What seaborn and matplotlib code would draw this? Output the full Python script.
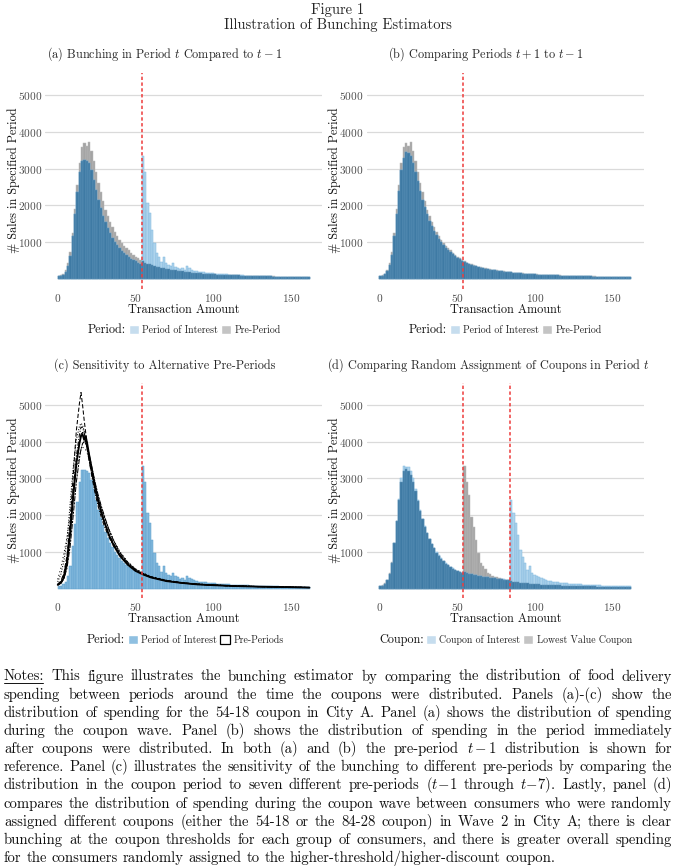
import numpy as np
import pandas as pd
import matplotlib
matplotlib.use("Agg")
import matplotlib.pyplot as plt
from matplotlib.patches import Patch
from matplotlib.lines import Line2D
import seaborn as sns

# ------------------------------------------------------------------
# Data (counts per 1.5-unit bin, 0 .. 162)
# ------------------------------------------------------------------
BIN_WIDTH = 1.5
bin_edges = np.arange(0, 162 + BIN_WIDTH / 2, BIN_WIDTH)
bin_centers = bin_edges[:-1] + BIN_WIDTH / 2

# coupon wave, 54-18 coupon (panels a and c)
wave_interest = [
    60, 70, 110, 190, 340, 620, 1150, 1750, 2350, 2900,
    3220, 3230, 3200, 3150, 2950, 2700, 2420, 2150, 1920, 1720,
    1540, 1380, 1240, 1120, 1000, 910, 830, 760, 700, 640,
    590, 545, 500, 470, 430, 400, 3350, 2900, 2050, 1780,
    1320, 960, 690, 600, 460, 600, 420, 380, 340, 420,
    330, 300, 270, 280, 240, 350, 290, 250, 220, 200,
    190, 180, 175, 165, 160, 150, 148, 140, 135, 130,
    125, 122, 115, 112, 108, 104, 100, 98, 92, 89,
    86, 84, 80, 77, 75, 72, 70, 69, 66, 64,
    62, 60, 58, 57, 55, 54, 53, 52, 50, 49,
    48, 47, 46, 45, 44, 43, 42, 40,
]
# pre-period t-1 (panels a and b)
pre_t1 = [
    70, 90, 140, 230, 420, 720, 1250, 1900, 2550, 3150,
    3600, 3700, 3620, 3720, 3480, 3200, 2900, 2620, 2350, 2120,
    1880, 1700, 1540, 1400, 1260, 1150, 1060, 980, 900, 830,
    770, 710, 650, 600, 560, 520, 470, 440, 410, 390,
    370, 350, 330, 315, 300, 285, 270, 258, 246, 235,
    225, 215, 205, 198, 190, 182, 175, 168, 162, 156,
    150, 145, 140, 135, 130, 126, 122, 118, 114, 110,
    107, 104, 101, 98, 95, 92, 90, 88, 86, 84,
    82, 80, 78, 76, 74, 72, 70, 68, 66, 64,
    62, 61, 60, 58, 57, 56, 55, 54, 53, 52,
    51, 50, 49, 48, 47, 46, 45, 44,
]
# period t+1 (panel b)
post_t1 = [
    60, 80, 120, 210, 380, 650, 1150, 1750, 2400, 2950,
    3300, 3450, 3420, 3350, 3150, 2900, 2650, 2400, 2150, 1950,
    1750, 1580, 1430, 1300, 1180, 1080, 990, 910, 840, 780,
    720, 660, 610, 565, 525, 490, 450, 420, 395, 375,
    355, 335, 318, 302, 288, 274, 260, 248, 237, 226,
    216, 207, 198, 190, 183, 176, 169, 162, 156, 150,
    145, 140, 135, 130, 126, 122, 118, 114, 110, 107,
    104, 101, 98, 95, 92, 90, 88, 86, 84, 82,
    80, 78, 76, 74, 72, 70, 68, 66, 64, 62,
    60, 59, 58, 57, 56, 55, 54, 53, 52, 51,
    50, 49, 48, 47, 46, 45, 44, 43,
]
# wave 2: 84-28 coupon (coupon of interest) and 54-18 coupon (lowest value)
coupon_interest = [
    70, 80, 130, 220, 400, 700, 1250, 1850, 2450, 3000,
    3350, 3300, 3320, 3200, 3000, 2700, 2400, 2150, 1900, 1700,
    1520, 1360, 1220, 1100, 990, 900, 820, 750, 690, 640,
    590, 550, 510, 480, 450, 430, 450, 420, 400, 390,
    370, 360, 345, 330, 320, 310, 300, 290, 285, 275,
    268, 262, 255, 250, 245, 240, 2400, 2050, 1780, 1450,
    1050, 870, 690, 500, 600, 420, 380, 330, 300, 280,
    250, 230, 215, 200, 190, 180, 170, 160, 150, 145,
    140, 135, 130, 125, 120, 115, 110, 106, 102, 98,
    95, 92, 89, 86, 83, 80, 78, 76, 74, 72,
    70, 68, 66, 64, 62, 60, 58, 56,
]
coupon_lowest = [
    70, 90, 140, 240, 420, 720, 1250, 1850, 2400, 2900,
    3200, 3250, 3200, 3100, 2900, 2650, 2380, 2120, 1880, 1680,
    1500, 1340, 1210, 1090, 980, 890, 810, 740, 680, 630,
    580, 540, 500, 470, 440, 420, 3350, 2900, 2550, 1960,
    1680, 1320, 960, 690, 600, 520, 420, 400, 330, 320,
    300, 280, 260, 240, 230, 220, 200, 190, 180, 170,
    160, 152, 145, 138, 132, 126, 120, 115, 110, 106,
    102, 98, 95, 92, 89, 86, 84, 82, 80, 78,
    76, 74, 72, 70, 68, 66, 64, 62, 60, 58,
    57, 56, 55, 54, 53, 52, 51, 50, 49, 48,
    47, 46, 45, 44, 43, 42, 41, 40,
]

# panel (c): seven alternative pre-periods (t-1 .. t-7)
pre_x = [0, 2, 4, 6, 8, 10, 12, 14, 15, 16, 17, 18, 19, 20, 22, 24, 26, 28,
         30, 33, 36, 40, 45, 50, 55, 60, 70, 80, 90, 100, 115, 130, 145, 162]
pre_periods = {
    "t-1": [100, 150, 300, 700, 1500, 2500, 3400, 3950, 4150, 4200, 4050, 4150, 3950, 3700, 3250, 2800, 2420,
            2100, 1820, 1450, 1180, 890, 650, 480, 380, 300, 200, 150, 110, 90, 65, 50, 40, 25],
    "t-2": [120, 200, 420, 900, 1800, 3100, 4300, 5050, 5340, 5000, 4600, 4250, 3950, 3650, 3150, 2700, 2350,
            2050, 1800, 1480, 1220, 930, 680, 500, 390, 310, 210, 150, 115, 90, 65, 50, 40, 25],
    "t-3": [180, 380, 750, 1300, 2300, 3300, 4050, 4420, 4500, 4450, 4300, 4100, 3850, 3650, 3250, 2850, 2500,
            2200, 1950, 1600, 1300, 980, 720, 530, 410, 320, 215, 155, 120, 95, 70, 52, 42, 28],
    "t-4": [110, 180, 380, 850, 1700, 2700, 3600, 4200, 4400, 4380, 4250, 4000, 3800, 3550, 3050, 2600, 2250,
            1950, 1700, 1400, 1150, 900, 660, 490, 385, 305, 205, 150, 115, 90, 65, 50, 40, 26],
    "t-5": [100, 160, 330, 750, 1550, 2550, 3450, 4000, 4200, 4250, 4150, 4000, 3800, 3550, 3100, 2700, 2350,
            2050, 1800, 1450, 1200, 920, 670, 500, 390, 310, 210, 150, 115, 92, 66, 51, 41, 26],
    "t-6": [90, 140, 260, 560, 1150, 2000, 2900, 3550, 3800, 3950, 4000, 3950, 3850, 3700, 3300, 2900, 2550,
            2250, 1980, 1600, 1300, 980, 710, 520, 405, 318, 215, 155, 118, 93, 68, 52, 42, 27],
    "t-7": [250, 550, 950, 1400, 2000, 2650, 3250, 3650, 3780, 3850, 3820, 3780, 3700, 3550, 3200, 2850, 2500,
            2200, 1950, 1600, 1320, 1000, 730, 540, 420, 330, 225, 160, 122, 96, 70, 53, 43, 28],
}
pre_styles = ["-", (0, (4, 2)), (0, (1, 1.5)), (0, (4, 1.5, 1, 1.5)),
              (0, (7, 2)), (0, (2, 1, 5, 1)), (0, (1, 2.5))]

thresholds_ab = [54]
thresholds_d = [54, 84]

# ------------------------------------------------------------------
# Style
# ------------------------------------------------------------------
sns.set_theme(style="white")
plt.rcParams["font.family"] = ["cmr10", "DejaVu Serif"]
plt.rcParams["mathtext.fontset"] = "cm"
plt.rcParams["axes.formatter.use_mathtext"] = True
plt.rcParams["axes.unicode_minus"] = False

W, H = 676, 868
LIGHT_BLUE = "#aed3ec"
LIGHT_BLUE_EDGE = "#7fb7de"
DARK_BLUE = "#3e7aa4"
DARK_BLUE_EDGE = "#6296bb"
GREY = "#a4a4a4"
GREY_EDGE = "#bcbcbc"
MID_BLUE = "#84b9dd"
MID_BLUE_EDGE = "#5a9dcc"
RED = "#ee3b3b"


def px(x, y):
    return x / W, 1 - y / H


def hist(ax, values, face, edge):
    df = pd.DataFrame({"amount": bin_centers, "count": np.asarray(values, dtype=float)})
    sns.histplot(data=df, x="amount", weights="count", bins=list(bin_edges), ax=ax,
                 color=face, edgecolor=edge, linewidth=0.35, alpha=1)


def overlay(ax, interest, other, blue=LIGHT_BLUE, blue_edge=LIGHT_BLUE_EDGE):
    hist(ax, other, GREY, GREY_EDGE)
    hist(ax, interest, blue, blue_edge)
    hist(ax, np.minimum(interest, other), DARK_BLUE, DARK_BLUE_EDGE)


def style_axis(ax, xlab_y, ylab_x, cuts):
    for c in cuts:
        ax.axvline(c, color=RED, lw=1.1, ls=(0, (2.2, 1.6)), zorder=5)
    ax.set_xlim(-8.1, 170.1)
    ax.set_ylim(-267, 5605)
    ax.set_xticks([0, 50, 100, 150])
    ax.set_yticks([1000, 2000, 3000, 4000, 5000])
    ax.yaxis.grid(True, color="#dadada", lw=0.9)
    ax.xaxis.grid(False)
    ax.set_axisbelow(True)
    for s in ax.spines.values():
        s.set_visible(False)
    ax.tick_params(axis="both", length=2, width=0.6, color="#444444",
                   labelsize=8.2, labelcolor="#505050", pad=0.3)
    ax.set_xlabel("Transaction Amount", fontsize=8.8, color="#111111")
    ax.set_ylabel("# Sales in Specified Period", fontsize=8.8, color="#111111")
    ax.xaxis.set_label_coords(0.5, xlab_y)
    ax.xaxis.label.set_va("center")
    ax.yaxis.set_label_coords(ylab_x, 0.5)
    ax.yaxis.label.set_va("center")


def legend(title, tx, y, handles, labels, lx):
    fig.text(*px(tx, y), title, fontsize=8.8, ha="center", va="center", color="#111111")
    fig.legend(handles, labels, loc="center left", bbox_to_anchor=px(lx, y), ncol=2,
               frameon=False, fontsize=7.1, handlelength=1.0, handleheight=1.0,
               handletextpad=0.35, columnspacing=0.3, borderpad=0, borderaxespad=0)


fig = plt.figure(figsize=(W / 100, H / 100), dpi=100)

ax_w, ax_h = 277 / W, 0.2483
ax_a = fig.add_axes([45.1 / W, 1 - 288.5 / H, ax_w, ax_h])
ax_b = fig.add_axes([366.8 / W, 1 - 288.5 / H, ax_w, ax_h])
ax_c = fig.add_axes([45.1 / W, 1 - 598.3 / H, ax_w, ax_h])
ax_d = fig.add_axes([366.8 / W, 1 - 598.3 / H, ax_w, ax_h])

overlay(ax_a, wave_interest, pre_t1)
overlay(ax_b, post_t1, pre_t1)
hist(ax_c, wave_interest, MID_BLUE, MID_BLUE_EDGE)
for (name, vals), ls in zip(pre_periods.items(), pre_styles):
    sns.lineplot(x=pre_x, y=vals, ax=ax_c, color="black",
                 lw=1.3 if ls == "-" else 0.75, linestyle=ls, zorder=3)
overlay(ax_d, coupon_interest, coupon_lowest)

style_axis(ax_a, -0.098, -0.115, thresholds_ab)
style_axis(ax_b, -0.098, -0.115, thresholds_ab)
style_axis(ax_c, -0.098, -0.115, thresholds_ab)
style_axis(ax_d, -0.098, -0.115, thresholds_d)

# titles
fig.text(*px(338, 10), "Figure 1", fontsize=10.5, ha="center", va="center")
fig.text(*px(338, 25), "Illustration of Bunching Estimators", fontsize=10.5, ha="center", va="center")
fig.text(*px(165, 54), "(a) Bunching in Period $t$ Compared to $t-1$", fontsize=8.8, ha="center", va="center")
fig.text(*px(486, 54), "(b) Comparing Periods $t+1$ to $t-1$", fontsize=8.8, ha="center", va="center")
fig.text(*px(165, 365), "(c) Sensitivity to Alternative Pre-Periods", fontsize=8.8, ha="center", va="center")
fig.text(*px(488, 365), "(d) Comparing Random Assignment of Coupons in Period $t$", fontsize=8.8,
         ha="center", va="center")

# legends
pair = [Patch(facecolor="#c6ddee"), Patch(facecolor="#c4c4c4")]
legend("Period:", 107, 330, pair, ["Period of Interest", "Pre-Period"], 129)
legend("Period:", 428, 330, pair, ["Period of Interest", "Pre-Period"], 450)
legend("Period:", 106, 640, [Patch(facecolor="#8fc0e1"), Patch(facecolor="white", edgecolor="black", lw=0.9)],
       ["Period of Interest", "Pre-Periods"], 128)
legend("Coupon:", 402, 640, pair, ["Coupon of Interest", "Lowest Value Coupon"], 426)

# notes, justified
note_lines = [
    "Notes: This figure illustrates the bunching estimator by comparing the distribution of food delivery",
    "spending between periods around the time the coupons were distributed.  Panels (a)-(c) show the",
    "distribution of spending for the 54-18 coupon in City A. Panel (a) shows the distribution of spending",
    "during the coupon wave.  Panel (b) shows the distribution of spending in the period immediately",
    "after coupons were distributed.  In both (a) and (b) the pre-period $t-1$ distribution is shown for",
    "reference. Panel (c) illustrates the sensitivity of the bunching to different pre-periods by comparing the",
    "distribution in the coupon period to seven different pre-periods ($t\\!-\\!1$ through $t\\!-\\!7$). Lastly, panel (d)",
    "compares the distribution of spending during the coupon wave between consumers who were randomly",
    "assigned different coupons (either the 54-18 or the 84-28 coupon) in Wave 2 in City A; there is clear",
    "bunching at the coupon thresholds for each group of consumers, and there is greater overall spending",
    "for the consumers randomly assigned to the higher-threshold/higher-discount coupon.",
]
renderer = fig.canvas.get_renderer()
x0, x1 = 4.0, 672.0


def width_of(s, fs):
    t = fig.text(0, 0, s, fontsize=fs)
    w = t.get_window_extent(renderer).width
    t.remove()
    return w


fs = 11.2
while True:
    space = width_of("a a", fs) - width_of("aa", fs)
    worst = max(sum(width_of(w, fs) for w in ln.split()) + space * (len(ln.split()) - 1)
                for ln in note_lines)
    if worst <= x1 - x0 or fs < 8:
        break
    fs -= 0.1

for i, ln in enumerate(note_lines):
    words = ln.split()
    base_y = 680.5 + 18.15 * i
    widths = [width_of(w, fs) for w in words]
    if i < len(note_lines) - 1:
        gap = (x1 - x0 - sum(widths)) / (len(words) - 1)
    else:
        gap = space
    xpos = x0
    for w, wd in zip(words, widths):
        fig.text(*px(xpos, base_y), w, fontsize=fs, va="baseline", ha="left", color="#111111")
        if i == 0 and w == "Notes:":
            fig.add_artist(Line2D([xpos / W, (xpos + wd - 2) / W], [1 - (base_y + 2) / H] * 2,
                                  color="#111111", lw=0.7))
        xpos += wd + gap

fig.savefig("out.png", dpi=100)
